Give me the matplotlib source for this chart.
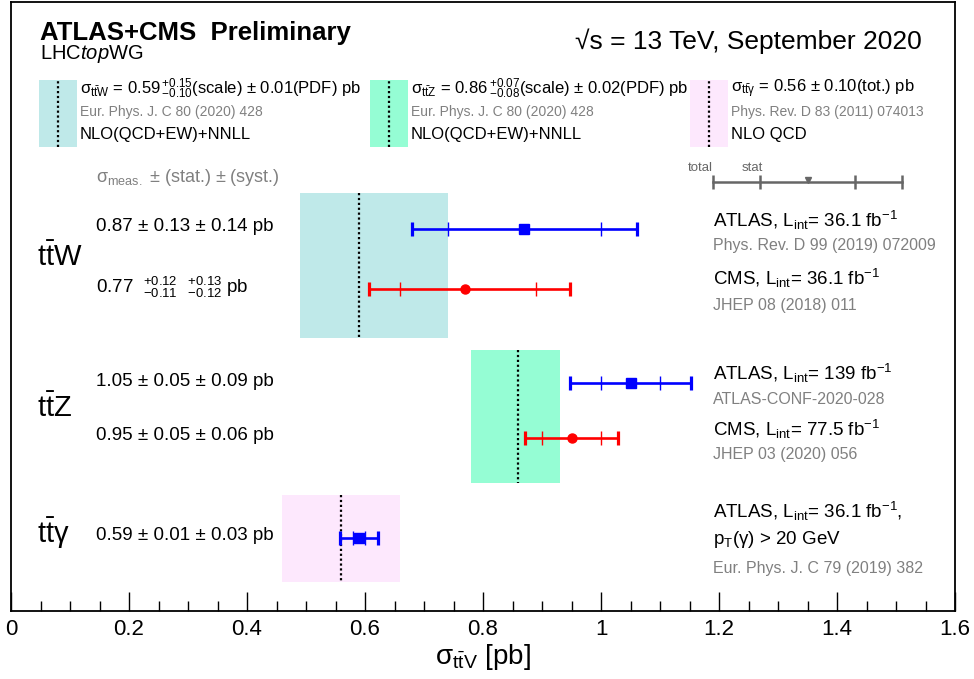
import matplotlib

matplotlib.use("Agg")

import matplotlib.pyplot as plt
import numpy as np
from matplotlib.lines import Line2D
from matplotlib.patches import Rectangle
from matplotlib.ticker import FuncFormatter, MultipleLocator

plt.rcParams["font.family"] = ["Liberation Sans", "DejaVu Sans"]
plt.rcParams["mathtext.fontset"] = "custom"
plt.rcParams["mathtext.rm"] = "Liberation Sans"
plt.rcParams["mathtext.it"] = "Liberation Sans:italic"
plt.rcParams["mathtext.bf"] = "Liberation Sans:bold"
plt.rcParams["mathtext.default"] = "regular"

# theory predictions, pb
PROCESSES = [r"$t\bar{t}W$", r"$t\bar{t}Z$", r"$t\bar{t}\gamma$"]
THEORY_CENTRAL = [0.59, 0.86, 0.56]
THEORY_UP = [0.15, 0.07, 0.10]
THEORY_DOWN = [0.10, 0.08, 0.10]
THEORY_COLORS = ["#bfe9e9", "#95fdd4", "#fde8fd"]
THEORY_LINE1 = [
    r"$\sigma_{t\bar{t}W}$ = 0.59$\,^{+0.15}_{-0.10}$(scale) ± 0.01(PDF) pb",
    r"$\sigma_{t\bar{t}Z}$ = 0.86$\,^{+0.07}_{-0.08}$(scale) ± 0.02(PDF) pb",
    r"$\sigma_{t\bar{t}\gamma}$ = 0.56 ± 0.10(tot.) pb",
]
THEORY_REFS = [
    "Eur. Phys. J. C 80 (2020) 428",
    "Eur. Phys. J. C 80 (2020) 428",
    "Phys. Rev. D 83 (2011) 074013",
]
THEORY_ORDER = ["NLO(QCD+EW)+NNLL", "NLO(QCD+EW)+NNLL", "NLO QCD"]

# measurements, pb
MEAS_EXPERIMENT = ["ATLAS", "CMS", "ATLAS", "CMS", "ATLAS"]
MEAS_CENTRAL = [0.87, 0.77, 1.05, 0.95, 0.59]
STAT_UP = [0.13, 0.12, 0.05, 0.05, 0.01]
STAT_DOWN = [0.13, 0.11, 0.05, 0.05, 0.01]
SYST_UP = [0.14, 0.13, 0.09, 0.06, 0.03]
SYST_DOWN = [0.14, 0.12, 0.09, 0.06, 0.03]
MEAS_TEXT = [
    "0.87 ± 0.13 ± 0.14 pb",
    r"0.77  ${}^{+0.12}_{-0.11}$  ${}^{+0.13}_{-0.12}$ pb",
    "1.05 ± 0.05 ± 0.09 pb",
    "0.95 ± 0.05 ± 0.06 pb",
    "0.59 ± 0.01 ± 0.03 pb",
]
LUMI_TEXT = [
    r"ATLAS, L$_{int}$= 36.1 fb$^{-1}$",
    r"CMS, L$_{int}$= 36.1 fb$^{-1}$",
    r"ATLAS, L$_{int}$= 139 fb$^{-1}$",
    r"CMS, L$_{int}$= 77.5 fb$^{-1}$",
    r"ATLAS, L$_{int}$= 36.1 fb$^{-1}$,",
]
MEAS_REFS = [
    "Phys. Rev. D 99 (2019) 072009",
    "JHEP 08 (2018) 011",
    "ATLAS-CONF-2020-028",
    "JHEP 03 (2020) 056",
    "Eur. Phys. J. C 79 (2019) 382",
]

STYLE = {"ATLAS": ("#0000ff", "s"), "CMS": ("#ff0000", "o")}
GREY = "#808080"

# layout, pixel rows from the top of the 974x679 canvas
W, H = 974, 679
ROW_Y = [229, 289, 383, 438, 538]
LUMI_Y = [220, 278, 373, 429, 511]
REF_Y = [245, 306, 399, 455, 568]
BAND_Y = [(193, 338), (350, 483), (495, 582)]
LABEL_Y = [257, 408, 533]
BOX_X = [39, 370, 690]


def main():
    fig = plt.figure(figsize=(W / 100, H / 100), dpi=100)
    fig.patch.set_facecolor("white")
    ax = fig.add_axes([11 / W, 1 - 611 / H, 944 / W, 609 / H])
    ax.set_xlim(0, 1.6)
    ax.set_ylim(611, 2)

    def put(x, y, s, **kw):
        kw.setdefault("va", "center")
        fig.text(x / W, 1 - y / H, s, **kw)

    # theory bands
    for i, c in enumerate(THEORY_CENTRAL):
        y0, y1 = BAND_Y[i]
        lo = c - THEORY_DOWN[i]
        ax.add_patch(Rectangle((lo, y0), THEORY_DOWN[i] + THEORY_UP[i], y1 - y0,
                               facecolor=THEORY_COLORS[i], edgecolor="none", zorder=1))
        ax.plot([c, c], [y0, y1], color="black", ls=(0, (1, 1.2)), lw=1.6, zorder=2)
        put(37, LABEL_Y[i], PROCESSES[i], fontsize=21)

    # measurements
    for i, c in enumerate(MEAS_CENTRAL):
        color, marker = STYLE[MEAS_EXPERIMENT[i]]
        y = ROW_Y[i]
        tot_up = np.hypot(STAT_UP[i], SYST_UP[i])
        tot_dn = np.hypot(STAT_DOWN[i], SYST_DOWN[i])
        ax.errorbar(c, y, xerr=[[tot_dn], [tot_up]], fmt=marker, color=color,
                    ms=6.5, elinewidth=1.9, capsize=4.8, capthick=2.3, zorder=4)
        ax.plot([c - STAT_DOWN[i], c + STAT_UP[i]], [y, y], ls="none", marker="|",
                ms=9.5, mew=1.0, color=color, zorder=4)
        put(96, y - 2, MEAS_TEXT[i], fontsize=13.5)
        put(713, LUMI_Y[i], LUMI_TEXT[i], fontsize=13.5)
        put(713, REF_Y[i], MEAS_REFS[i], fontsize=11.5, color=GREY)
    put(713, 540, r"p$_{T}$($\gamma$) > 20 GeV", fontsize=13.5)

    # total / stat key
    key_c, key_tot, key_stat, key_y = 1.35, 0.16, 0.08, 182
    ax.plot([key_c - key_tot, key_c + key_tot], [key_y, key_y], color="#666666", lw=1.8)
    ax.plot([key_c - key_tot, key_c - key_stat, key_c + key_stat, key_c + key_tot],
            [key_y] * 4, ls="none", marker="|", ms=10, mew=1.8, color="#666666")
    ax.plot([key_c], [key_y - 2], ls="none", marker="v", ms=5, color="#666666")
    put(713, 168, "total", fontsize=9.5, color="#666666", ha="right")
    put(763, 168, "stat", fontsize=9.5, color="#666666", ha="right")
    put(96, 178, r"$\sigma_{meas.}$ ± (stat.) ± (syst.)", fontsize=13, color=GREY)

    # header
    put(40, 33, "ATLAS+CMS  Preliminary", fontsize=18.5, fontweight="bold")
    put(40, 54, r"LHC$\mathit{top}$WG", fontsize=14.5)
    put(922, 41, "√s = 13 TeV, September 2020", fontsize=19, ha="right")

    # theory legend boxes
    for i, bx in enumerate(BOX_X):
        fig.add_artist(Rectangle((bx / W, 1 - 147 / H), 38 / W, 67 / H,
                                 transform=fig.transFigure,
                                 facecolor=THEORY_COLORS[i], edgecolor="none"))
        fig.add_artist(Line2D([(bx + 19) / W] * 2, [1 - 147 / H, 1 - 80 / H],
                              transform=fig.transFigure, color="black",
                              ls=(0, (1, 1.2)), lw=1.6))
        put(bx + 41, 89, THEORY_LINE1[i], fontsize=12)
        put(bx + 41, 112, THEORY_REFS[i], fontsize=10, color=GREY)
        put(bx + 41, 134, THEORY_ORDER[i], fontsize=12)

    # axes styling
    for spine in ax.spines.values():
        spine.set_linewidth(1.3)
    ax.set_yticks([])
    ax.xaxis.set_major_locator(MultipleLocator(0.2))
    ax.xaxis.set_minor_locator(MultipleLocator(0.05))
    ax.xaxis.set_major_formatter(FuncFormatter(lambda v, _: f"{v:g}"))
    ax.tick_params(axis="x", which="major", direction="in", length=14, width=1,
                   labelsize=16, pad=6)
    ax.tick_params(axis="x", which="minor", direction="in", length=7, width=1)
    ax.set_xlabel(r"$\sigma_{t\bar{t}V}$ [pb]", fontsize=20, labelpad=1)

    fig.savefig("out.png", dpi=100, facecolor="white")
    plt.close(fig)


if __name__ == "__main__":
    main()
